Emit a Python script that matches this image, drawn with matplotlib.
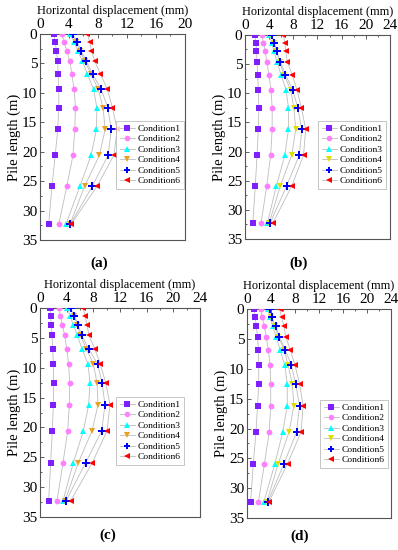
import numpy as np
import matplotlib
matplotlib.use('Agg')
import matplotlib.pyplot as plt
from matplotlib.ticker import MultipleLocator
from matplotlib.lines import Line2D

plt.rcParams['font.family'] = ['Liberation Serif', 'DejaVu Serif']

# depth of measuring points along the pile (m)
depth = [0, 1.3, 2.8, 4.6, 6.8, 9.4, 12.5, 16.2, 20.6, 25.9, 32.3]

labels = ['Condition1', 'Condition2', 'Condition3', 'Condition4', 'Condition5', 'Condition6']

# horizontal displacement (mm), panel (a)
disp_a = [
    [1.9, 2.1, 2.25, 2.45, 2.5, 2.6, 2.6, 2.45, 2.1, 1.65, 1.2],
    [3.05, 3.3, 3.7, 4.1, 4.4, 4.7, 4.9, 4.8, 4.55, 3.7, 2.6],
    [4.15, 4.7, 5.2, 5.85, 6.55, 7.4, 7.85, 7.8, 7.05, 5.5, 3.6],
    [4.4, 5.0, 5.5, 6.2, 7.05, 8.05, 8.7, 9.0, 8.2, 6.15, 4.15],
    [4.5, 5.15, 5.65, 6.4, 7.25, 8.45, 9.35, 9.85, 9.4, 7.2, 4.2],
    [6.55, 6.85, 7.1, 7.55, 8.35, 9.3, 10.0, 10.65, 10.2, 7.85, 4.3],
]
# panel (b)
disp_b = [
    [1.65, 1.8, 1.9, 2.0, 2.1, 2.2, 2.3, 2.2, 2.0, 1.7, 1.3],
    [2.75, 3.05, 3.35, 3.6, 3.95, 4.3, 4.5, 4.5, 4.25, 3.6, 2.65],
    [4.0, 4.4, 4.8, 5.3, 5.95, 6.8, 7.2, 7.2, 6.6, 5.2, 3.7],
    [4.3, 4.75, 5.2, 5.75, 6.45, 7.55, 8.1, 8.4, 7.75, 5.85, 4.0],
    [4.4, 4.85, 5.25, 5.85, 6.7, 7.9, 8.75, 9.4, 9.0, 6.9, 4.15],
    [6.35, 6.6, 6.75, 7.0, 7.8, 8.6, 9.35, 10.05, 9.7, 7.75, 4.6],
]
# panel (c)
disp_c = [
    [1.5, 1.6, 1.7, 1.8, 1.9, 2.0, 2.05, 2.0, 1.85, 1.6, 1.3],
    [2.85, 3.05, 3.35, 3.7, 4.0, 4.3, 4.45, 4.4, 4.15, 3.45, 2.55],
    [4.1, 4.5, 5.0, 5.6, 6.3, 7.2, 7.5, 7.3, 6.5, 5.0, 3.45],
    [4.5, 5.1, 5.6, 6.05, 6.95, 8.0, 8.55, 8.7, 7.8, 5.75, 3.75],
    [4.6, 5.15, 5.7, 6.25, 7.3, 8.65, 9.3, 9.75, 9.25, 6.85, 3.9],
    [6.45, 6.75, 7.05, 7.35, 8.2, 9.05, 9.85, 10.5, 10.05, 7.85, 4.6],
]
# panel (d)
disp_d = [
    [1.2, 1.35, 1.55, 1.75, 1.9, 1.95, 1.95, 1.75, 1.5, 1.05, 0.6],
    [2.25, 2.55, 2.85, 3.2, 3.55, 3.85, 3.95, 3.95, 3.7, 2.9, 1.9],
    [3.45, 3.8, 4.25, 4.85, 5.5, 6.3, 6.7, 6.7, 5.95, 4.65, 2.8],
    [3.65, 4.0, 4.6, 5.2, 6.2, 6.85, 7.55, 7.8, 7.0, 5.2, 3.3],
    [3.75, 4.1, 4.75, 5.4, 6.35, 7.4, 8.1, 8.75, 8.25, 6.15, 3.45],
    [5.45, 5.75, 6.15, 6.45, 7.2, 8.0, 8.75, 9.35, 9.0, 6.75, 3.65],
]

markers = ['s', 'o', '^', 'v', 'P', '<']
msizes = [4.2, 4.2, 4.2, 4.2, 5.2, 4.2]
colors_ac = ['#7f1fff', '#ff80ff', '#00ffff', '#e8a020', '#0000ff', '#ff0000']
colors_bd = ['#7f1fff', '#ff80ff', '#00ffff', '#dddd00', '#0000ff', '#ff0000']

W, H = 398, 550
fig = plt.figure(figsize=(W / 100, H / 100), dpi=100, facecolor='white')

panels = [
    # data, xmax, colors, axes rect, legend upper-right (px), caption centre (px), caption
    (disp_a, 20, colors_ac, [0.1005, 0.5636, 0.364, 0.3745], (184, 121), (99, 263), '(a)'),
    (disp_b, 24, colors_bd, [0.6156, 0.5655, 0.364, 0.371], (386, 121), (299, 263), '(b)'),
    (disp_c, 24, colors_ac, [0.1005, 0.0600, 0.402, 0.380], (184, 397), (108, 535), '(c)'),
    (disp_d, 24, colors_bd, [0.6206, 0.0580, 0.362, 0.380], (388, 400), (300, 536), '(d)'),
]

for data, xmax, cols, rect, leg_px, cap_px, cap in panels:
    ax = fig.add_axes(rect)
    handles = []
    for i, series in enumerate(data):
        ax.plot(series, depth, color='#bdbdbd', linewidth=0.6, zorder=1)
        ax.plot(series, depth, linestyle='none', marker=markers[i], color=cols[i],
                markersize=msizes[i], markeredgewidth=0, zorder=3)
        handles.append(Line2D([], [], color='#bdbdbd', linewidth=0.6, marker=markers[i],
                              markerfacecolor=cols[i], markeredgewidth=0,
                              markersize=msizes[i] - 0.2, label=labels[i]))
    ax.set_xlim(0, xmax)
    ax.set_ylim(35, 0)
    ax.xaxis.set_major_locator(MultipleLocator(4))
    ax.xaxis.set_minor_locator(MultipleLocator(2))
    ax.yaxis.set_major_locator(MultipleLocator(5))
    ax.yaxis.set_minor_locator(MultipleLocator(2.5))
    ax.xaxis.tick_top()
    ax.xaxis.set_label_position('top')
    ax.tick_params(which='both', direction='in', labelsize=11, pad=2, width=0.6, colors='#444444',
                   labelcolor='black')
    ax.tick_params(which='major', length=3)
    ax.tick_params(which='minor', length=1.5)
    for sp in ax.spines.values():
        sp.set_color('#555555')
        sp.set_linewidth(0.8)
    ax.set_xlabel('Horizontal displacement (mm)', fontsize=8.8, labelpad=3)
    ax.set_ylabel('Pile length (m)', fontsize=10.5, labelpad=1)

    leg = fig.legend(handles=handles, loc='upper right',
                     bbox_to_anchor=(leg_px[0] / W, 1 - leg_px[1] / H), fontsize=6.8,
                     frameon=True, fancybox=False,
                     handlelength=1.6, handletextpad=0.3, labelspacing=0.2,
                     borderpad=0.35, borderaxespad=0)
    leg.get_frame().set_edgecolor('#aaaaaa')
    leg.get_frame().set_linewidth(0.6)

    fig.text(cap_px[0] / W, 1 - cap_px[1] / H, cap, ha='center', va='center',
             fontsize=11, fontweight='bold')

fig.savefig('out.png', dpi=100, facecolor='white')
